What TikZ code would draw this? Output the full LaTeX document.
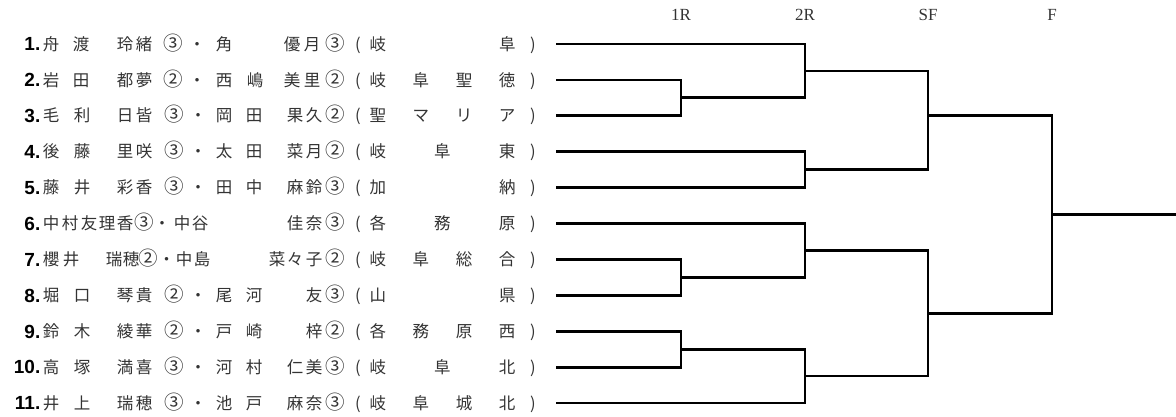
\documentclass[tikz,border=0pt]{standalone}
\usepackage{fontspec}
\setmainfont{Liberation Serif}
\newfontfamily\jpfont{Noto Sans CJK JP}
\newfontfamily\numfont{Liberation Sans}
\usetikzlibrary{calc}

\begin{document}
\begin{tikzpicture}[
    x=1pt, y=-1pt,
    bline/.style={line width=2.8pt},
    jp/.style={
        font=\jpfont\fontsize{16.5}{16.5}\selectfont,
        text=black!80,
        inner sep=0pt,
        text height=13.4pt,
        text depth=1.1pt
    },
    seed/.style={
        font=\numfont\bfseries\fontsize{19}{19}\selectfont,
        anchor=east,
        inner sep=0pt,
        text height=13.6pt,
        text depth=0pt
    },
    rlabel/.style={
        font=\fontsize{17}{17}\selectfont,
        text=black!80,
        inner sep=0pt
    }
]

\useasboundingbox (0,0) rectangle (1176,416);

% circled grades, a little larger than the font gives them
\newcommand\gii{{\fontsize{19.5}{19.5}\selectfont ②}}
\newcommand\giii{{\fontsize{19.5}{19.5}\selectfont ③}}

% One entrant row: number, glyphs (x/char), school, start of its line
\newcommand\entrant[4]{
    \node[seed] (n#1) at (40.5,#2) {#1.};
    \foreach \gx/\gc [count=\k] in {#3} \node[jp] (r#1g\k) at (\gx,#2) {\gc};
    \node[jp] (lp#1) at (358,#2) {(};
    \node[jp] (s#1) at (442.5,#2) {\makebox[146pt][s]{#4}};
    \node[jp] (rp#1) at (533,#2) {)};
    \coordinate (p#1) at (556,#2);
}

% === ROUND LABELS ===
\node[rlabel] (rd1) at (681,15) {1R};
\node[rlabel] (rd2) at (805,15) {2R};
\node[rlabel] (rdsf) at (928,15) {SF};
\node[rlabel] (rdf) at (1052,15) {F};

% === ENTRANTS ===
\entrant{1}{44}{51/舟, 81/渡, 125/玲, 144/緒, 173/\giii, 197/・, 224/角, 292/優, 312/月, 335/\giii}{岐\hfill 阜}
\entrant{2}{79.9}{51/岩, 81/田, 125/都, 144/夢, 173/\gii, 197/・, 224/西, 255/嶋, 292/美, 312/里, 335/\gii}{岐\hfill 阜\hfill 聖\hfill 徳}
\entrant{3}{115.8}{51/毛, 82/利, 125/日, 144/皆, 174/\giii, 198/・, 224/岡, 254/田, 295/果, 314/久, 335/\gii}{聖\hfill マ\hfill リ\hfill ア}
\entrant{4}{151.7}{51/後, 82/藤, 125/里, 144/咲, 174/\giii, 198/・, 224/太, 254/田, 295/菜, 314/月, 335/\gii}{岐\hfill 阜\hfill 東}
\entrant{5}{187.6}{51/藤, 82/井, 125/彩, 144/香, 174/\giii, 198/・, 224/田, 254/中, 295/麻, 314/鈴, 335/\giii}{加\hfill 納}
\entrant{6}{223.5}{51/中, 70/村, 89/友, 107/理, 125/香, 144/\giii, 162/・, 182/中, 200/谷, 295/佳, 314/奈, 335/\giii}{各\hfill 務\hfill 原}
\entrant{7}{259.4}{51/櫻, 71/井, 114/瑞, 131/穂, 148/\gii, 166.5/・, 184/中, 202/島, 277/菜, 295/々, 314/子, 335/\gii}{岐\hfill 阜\hfill 総\hfill 合}
\entrant{8}{295.3}{51/堀, 82/口, 125/琴, 144/貴, 174/\gii, 198/・, 224/尾, 254/河, 314/友, 335/\giii}{山\hfill 県}
\entrant{9}{331.2}{51/鈴, 82/木, 125/綾, 144/華, 174/\gii, 198/・, 224/戸, 254/崎, 314/梓, 335/\gii}{各\hfill 務\hfill 原\hfill 西}
\entrant{10}{367.1}{51/高, 82/塚, 125/満, 144/喜, 174/\giii, 198/・, 224/河, 254/村, 295/仁, 314/美, 335/\giii}{岐\hfill 阜\hfill 北}
\entrant{11}{403}{51/井, 82/上, 125/瑞, 144/穂, 174/\giii, 198/・, 224/池, 254/戸, 295/麻, 314/奈, 335/\giii}{岐\hfill 阜\hfill 城\hfill 北}

% === 1R ===
\draw[bline] (p2) -- (p2 -| rd1) -- (p3 -| rd1) -- (p3);
\coordinate (w3) at ($(p2 -| rd1)!0.5!(p3 -| rd1)$);
\draw[bline] (p7) -- (p7 -| rd1) -- (p8 -| rd1) -- (p8);
\coordinate (w8) at ($(p7 -| rd1)!0.5!(p8 -| rd1)$);
\draw[bline] (p9) -- (p9 -| rd1) -- (p10 -| rd1) -- (p10);
\coordinate (w10) at ($(p9 -| rd1)!0.5!(p10 -| rd1)$);

% === 2R ===
\draw[bline] (p1) -- (p1 -| rd2) -- (w3 -| rd2) -- (w3);
\coordinate (v1) at ($(p1 -| rd2)!0.5!(w3 -| rd2)$);
\draw[bline] (p4) -- (p4 -| rd2) -- (p5 -| rd2) -- (p5);
\coordinate (v5) at ($(p4 -| rd2)!0.5!(p5 -| rd2)$);
\draw[bline] (p6) -- (p6 -| rd2) -- (w8 -| rd2) -- (w8);
\coordinate (v6) at ($(p6 -| rd2)!0.5!(w8 -| rd2)$);
\draw[bline] (w10) -- (w10 -| rd2) -- (p11 -| rd2) -- (p11);
\coordinate (v11) at ($(w10 -| rd2)!0.5!(p11 -| rd2)$);

% === SF ===
\draw[bline] (v1) -- (v1 -| rdsf) -- (v5 -| rdsf) -- (v5);
\coordinate (sf1) at (p3 -| rdsf);
\draw[bline] (v6) -- (v6 -| rdsf) -- (v11 -| rdsf) -- (v11);
\coordinate (sf2) at ($(v6 -| rdsf)!0.5!(v11 -| rdsf)$);

% === F ===
\draw[bline] (sf1) -- (sf1 -| rdf) -- (sf2 -| rdf) -- (sf2);
\coordinate (fin) at ($(sf1 -| rdf)!0.5!(sf2 -| rdf)$);
\coordinate (edge) at (1176,0);
\draw[bline] (fin) -- (fin -| edge);

\end{tikzpicture}
\end{document}
